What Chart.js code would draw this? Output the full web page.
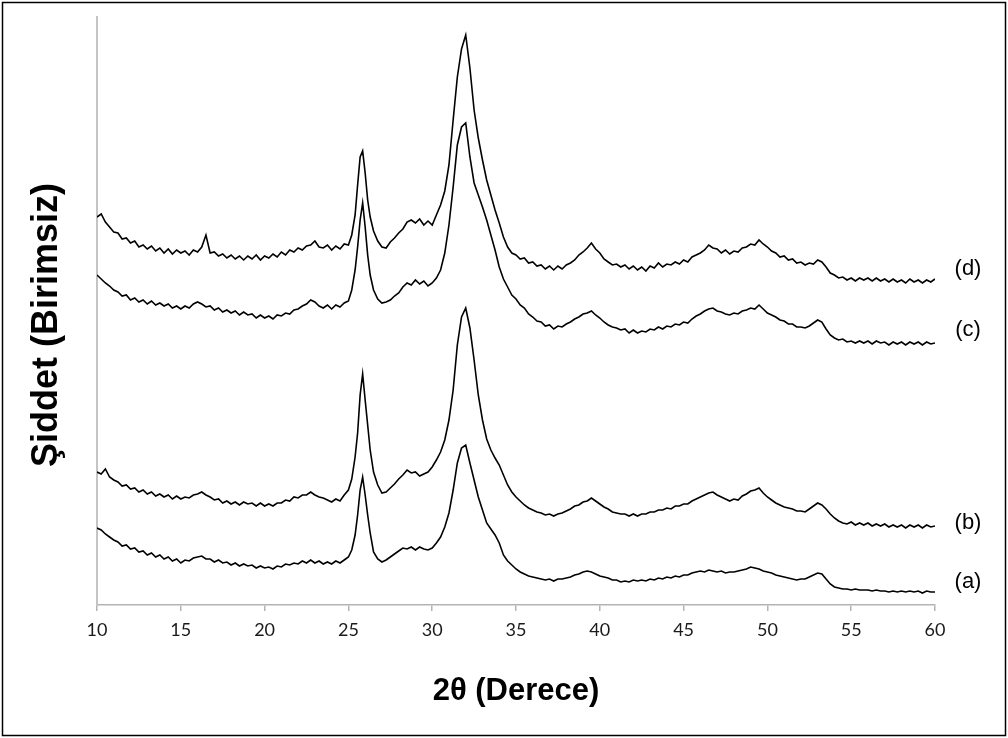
<!DOCTYPE html>
<html>
<head>
<meta charset="utf-8">
<script src="https://cdn.jsdelivr.net/npm/chart.js@4.4.1/dist/chart.umd.min.js"></script>
<style>
  html, body { margin: 0; padding: 0; background: #fff; }
  canvas { display: block; }
</style>
</head>
<body>
<canvas id="c" width="1008" height="738" style="width:1008px;height:738px"></canvas>
<script>
// 2θ positions (degrees)
const twoTheta = [
  10,10.25,10.5,10.75,11,11.25,11.5,11.75,12,12.25,12.5,12.75,13,13.25,13.5,13.75,14,14.25,14.5,14.75,
  15,15.25,15.5,15.75,16,16.25,16.5,16.75,17,17.25,17.5,17.75,18,18.25,18.5,18.75,19,19.25,19.5,19.75,
  20,20.25,20.5,20.75,21,21.25,21.5,21.75,22,22.25,22.5,22.75,23,23.25,23.5,23.75,24,24.25,24.5,24.75,
  25,25.2,25.4,25.55,25.7,25.85,26,26.15,26.3,26.5,26.75,
  27,27.25,27.5,27.75,28,28.25,28.5,28.75,29,29.25,29.5,29.75,30,30.25,30.5,30.75,31,31.25,31.5,31.75,
  32,32.25,32.5,32.75,33,33.25,33.5,33.75,34,34.25,34.5,34.75,35,35.25,35.5,35.75,36,36.25,36.5,36.75,
  37,37.25,37.5,37.75,38,38.25,38.5,38.75,39,39.25,39.5,39.75,40,40.25,40.5,40.75,41,41.25,41.5,41.75,
  42,42.25,42.5,42.75,43,43.25,43.5,43.75,44,44.25,44.5,44.75,45,45.25,45.5,45.75,46,46.25,46.5,46.75,
  47,47.25,47.5,47.75,48,48.25,48.5,48.75,49,49.25,49.5,49.75,50,50.25,50.5,50.75,51,51.25,51.5,51.75,
  52,52.25,52.5,52.75,53,53.25,53.5,53.75,54,54.25,54.5,54.75,55,55.25,55.5,55.75,56,56.25,56.5,56.75,
  57,57.25,57.5,57.75,58,58.25,58.5,58.75,59,59.25,59.5,59.75,60
];

// Intensity (arbitrary units, offset stacked) for each sample
const seriesD = [
  388,391,383,378,373,372,366,367,362,364,358,360,356,359,354,357,352,356,351,355,
  352,354,350,355,353,358,370,352,353,349,351,347,350,346,349,345,349,346,350,345,
  349,347,351,348,353,350,355,353,357,355,359,360,364,358,357,360,355,359,356,361,
  360,370,390,420,448,454,432,405,388,374,364,
  358,357,363,367,372,376,383,385,382,386,380,384,380,390,400,414,440,485,528,556,
  570,537,495,467,445,425,410,395,382,368,358,352,350,346,347,342,343,339,340,336,
  339,335,339,336,340,342,345,350,353,357,362,356,352,346,343,340,341,338,340,336,
  339,335,338,334,339,337,342,338,341,340,343,341,345,343,348,350,352,355,360,357,
  356,352,355,351,354,353,357,358,361,360,365,361,358,354,352,348,349,345,346,342,
  343,340,342,341,345,343,338,332,330,327,328,325,327,324,327,325,327,324,327,324,
  326,323,326,323,325,322,326,323,325,322,325,323,326
];
const seriesC = [
  330,326,322,319,315,313,309,310,305,307,303,305,301,304,300,302,299,301,297,299,
  296,299,297,301,303,301,298,299,295,297,293,295,292,294,290,293,290,291,287,290,
  287,289,286,290,289,292,291,295,296,299,301,305,303,299,297,300,296,300,298,302,
  304,315,335,358,385,402,378,350,330,315,306,
  302,303,305,309,312,318,322,320,325,321,324,319,322,327,335,352,380,418,460,478,
  482,448,422,410,398,385,370,355,338,326,318,310,306,300,297,291,288,284,283,279,
  280,276,279,278,281,283,286,288,291,292,294,290,287,283,280,278,277,275,276,272,
  275,272,274,273,276,275,278,276,279,278,281,280,283,282,286,289,291,294,296,297,
  294,293,291,290,292,291,294,295,297,296,300,296,292,290,288,285,284,281,281,278,
  278,277,279,282,285,283,276,270,267,265,266,263,264,262,264,262,264,261,264,262,
  263,260,263,261,263,260,263,261,263,260,263,261,262
];
const seriesB = [
  133,131,136,128,125,123,119,120,116,117,113,115,111,113,109,111,108,110,106,109,
  106,108,107,110,111,113,110,108,105,106,102,104,101,103,100,103,101,102,99,102,
  99,101,99,102,102,105,104,108,107,110,110,113,110,108,107,105,103,106,104,110,
  115,126,148,172,210,231,205,180,155,133,120,
  112,113,117,121,126,130,135,132,133,129,131,133,138,145,153,165,185,215,260,288,
  297,277,245,210,185,166,155,147,140,130,120,113,108,104,100,97,95,93,92,90,
  91,89,91,92,94,96,99,100,103,104,107,104,101,98,96,93,92,91,91,89,
  91,89,91,91,93,93,95,95,97,96,99,99,101,101,104,106,108,110,112,113,
  110,108,106,104,106,105,109,111,114,115,117,112,108,105,102,100,98,97,96,94,
  94,93,96,99,102,100,96,91,87,84,82,81,83,80,82,80,82,79,81,79,
  81,78,80,78,80,77,80,78,80,77,80,78,79
];
const seriesA = [
  77,75,71,68,65,63,59,60,56,57,53,54,50,52,48,50,46,48,44,46,
  42,45,44,47,48,49,46,46,43,45,42,43,40,42,39,41,39,40,37,39,
  37,38,36,39,38,41,40,42,41,44,42,45,42,44,41,43,41,44,42,45,
  48,55,70,90,115,128,110,90,72,53,46,
  43,45,48,51,54,57,56,58,55,58,56,55,57,62,68,78,92,115,142,157,
  160,142,125,108,95,82,76,70,62,50,44,40,36,33,31,29,28,27,26,25,
  26,24,26,26,27,28,30,31,33,34,33,31,29,28,27,25,25,23,24,23,
  25,24,25,24,26,25,27,26,28,27,29,28,30,30,32,33,34,33,35,34,
  33,34,32,33,33,34,35,36,38,37,36,34,33,32,30,29,28,27,26,25,
  26,26,28,30,32,31,26,21,18,17,16,16,15,16,15,15,15,14,15,14,
  14,13,14,13,14,13,14,13,14,12,14,13,13
];

const seriesLabels = ['(a)', '(b)', '(c)', '(d)'];
const xTitle = '2θ (Derece)';
const yTitle = 'Şiddet (Birimsiz)';

const allSeries = [seriesA, seriesB, seriesC, seriesD];
// vertical nudges (px) of the right-hand labels relative to each trace end
const labelNudge = [-10, -3, -13, -10];

function toPoints(arr) {
  return twoTheta.map((x, i) => ({ x: x, y: arr[i] }));
}

const datasets = allSeries.map((arr, i) => ({
  label: seriesLabels[i],
  data: toPoints(arr),
  borderColor: '#000000',
  borderWidth: 1.6,
  pointRadius: 0,
  tension: 0,
  fill: false
}));

const decorPlugin = {
  id: 'decor',
  beforeDraw(chart) {
    const ctx = chart.ctx;
    ctx.save();
    ctx.fillStyle = '#ffffff';
    ctx.fillRect(0, 0, chart.width, chart.height);
    ctx.restore();
  },
  afterDraw(chart) {
    const ctx = chart.ctx;
    const area = chart.chartArea;
    const yScale = chart.scales.y;
    ctx.save();
    // outer frame
    ctx.strokeStyle = '#000000';
    ctx.lineWidth = 1.5;
    ctx.strokeRect(2.5, 2.5, chart.width - 5, chart.height - 5);

    // series labels at right end
    ctx.fillStyle = '#000000';
    ctx.font = '22px "Liberation Sans", Arial, sans-serif';
    ctx.textAlign = 'center';
    ctx.textBaseline = 'middle';
    allSeries.forEach((arr, i) => {
      const yv = yScale.getPixelForValue(arr[arr.length - 1]);
      ctx.fillText(seriesLabels[i], area.right + 33, yv + labelNudge[i]);
    });

    // x title
    ctx.font = 'bold 31px "Liberation Sans", Arial, sans-serif';
    ctx.textAlign = 'center';
    ctx.textBaseline = 'middle';
    ctx.fillText(xTitle, (area.left + area.right) / 2, 691);

    // y title
    ctx.translate(47, (area.top + area.bottom) / 2 + 14);
    ctx.rotate(-Math.PI / 2);
    ctx.font = 'bold 36px "Liberation Sans", Arial, sans-serif';
    ctx.fillText(yTitle, 0, 0);
    ctx.restore();
  }
};

new Chart(document.getElementById('c'), {
  type: 'line',
  data: { datasets: datasets },
  options: {
    responsive: false,
    devicePixelRatio: 1,
    animation: false,
    layout: { padding: { top: 17, right: 73, left: 0, bottom: 0 } },
    plugins: { legend: { display: false }, tooltip: { enabled: false } },
    scales: {
      x: {
        type: 'linear',
        min: 10,
        max: 60,
        ticks: {
          stepSize: 5,
          color: '#1a1a1a',
          font: { family: 'Lato', size: 18 },
          padding: 8,
          maxRotation: 0
        },
        grid: { display: true, drawOnChartArea: false, drawTicks: true, tickLength: 6, color: '#b4b4b4', lineWidth: 1.5 },
        border: { display: true, color: '#b4b4b4', width: 1.5 },
        afterFit(s) { s.height = 133; }
      },
      y: {
        min: 0,
        max: 588,
        ticks: { display: false },
        grid: { display: false },
        border: { display: true, color: '#c4c4c4', width: 2 },
        afterFit(s) { s.width = 97; }
      }
    }
  },
  plugins: [decorPlugin]
});
</script>
</body>
</html>
